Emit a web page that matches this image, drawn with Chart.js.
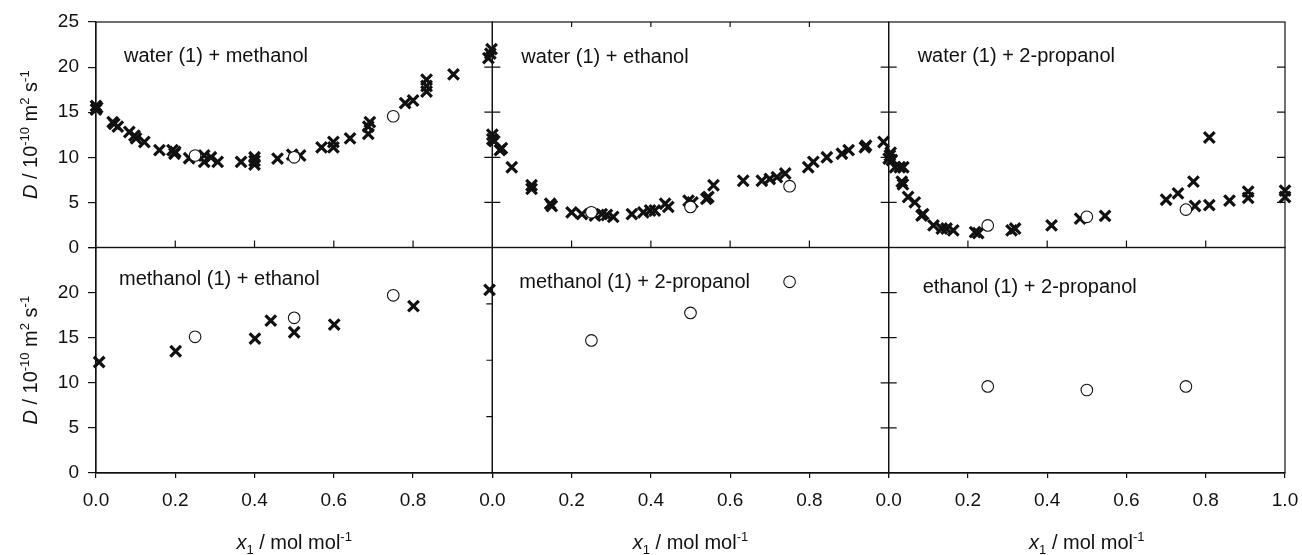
<!DOCTYPE html>
<html>
<head>
<meta charset="utf-8">
<title>Diffusion coefficients of binary mixtures</title>
<script src="https://cdn.jsdelivr.net/npm/chart.js@4/dist/chart.umd.min.js"></script>
<style>
  html, body { margin: 0; padding: 0; background: #fff; }
  #wrap { width: 1302px; height: 555px; }
</style>
</head>
<body>
<div id="wrap"><canvas id="diffChart" width="1302" height="555"></canvas></div>
<script>
/* Data: crosses = literature values, circles = simulation */
const panelNames = [
  'water (1) + methanol', 'water (1) + ethanol', 'water (1) + 2-propanol',
  'methanol (1) + ethanol', 'methanol (1) + 2-propanol', 'ethanol (1) + 2-propanol'
];

const xTicks = [0, 0.2, 0.4, 0.6, 0.8, 1.0];
const dTicks = [0, 5, 10, 15, 20, 25];

const waterMethanolX = [0, 0, 0.003, 0.042, 0.046, 0.055, 0.084, 0.097, 0.101, 0.122, 0.16, 0.193, 0.198, 0.2,
  0.235, 0.273, 0.273, 0.29, 0.307, 0.366, 0.4, 0.4, 0.4, 0.458, 0.495, 0.515, 0.569, 0.599, 0.599, 0.641,
  0.687, 0.687, 0.691, 0.78, 0.8, 0.834, 0.834, 0.834, 0.902, 0.99, 0.995, 0.998];
const waterMethanolD = [15.3, 15.7, 15.5, 13.9, 13.7, 13.4, 12.8, 12.4, 12.1, 11.7, 10.8, 10.8, 10.4, 10.6,
  9.9, 10.2, 9.5, 10.0, 9.5, 9.5, 9.2, 9.6, 10.0, 9.85, 10.3, 10.2, 11.1, 11.7, 11.1, 12.1,
  12.6, 13.4, 13.9, 16.0, 16.3, 17.3, 17.9, 18.6, 19.2, 21.0, 21.5, 22.0];
const waterMethanolSimX = [0.25, 0.5, 0.75];
const waterMethanolSimD = [10.2, 10.0, 14.55];

const waterEthanolX = [0, 0, 0.005, 0.019, 0.024, 0.049, 0.099, 0.099, 0.146, 0.15, 0.2, 0.226, 0.259, 0.276,
  0.289, 0.305, 0.352, 0.381, 0.398, 0.41, 0.436, 0.444, 0.495, 0.505, 0.54, 0.545, 0.558, 0.633, 0.68, 0.7,
  0.718, 0.739, 0.797, 0.81, 0.844, 0.882, 0.899, 0.94, 0.943, 0.987];
const waterEthanolD = [12.5, 12.0, 11.8, 10.8, 11.0, 8.9, 6.9, 6.5, 4.85, 4.6, 3.9, 3.7, 3.55, 3.7,
  3.6, 3.4, 3.7, 3.9, 4.1, 4.1, 4.85, 4.5, 5.2, 5.0, 5.4, 5.6, 6.9, 7.4, 7.4, 7.6,
  7.8, 8.2, 8.9, 9.5, 10.0, 10.4, 10.8, 11.1, 11.3, 11.7];
const waterEthanolSimX = [0.25, 0.5, 0.75];
const waterEthanolSimD = [3.9, 4.5, 6.8];

const waterPropanolX = [0, 0.003, 0.005, 0.008, 0.016, 0.028, 0.037, 0.033, 0.036, 0.049, 0.066, 0.083, 0.087,
  0.113, 0.134, 0.146, 0.163, 0.218, 0.226, 0.31, 0.319, 0.411, 0.483, 0.546, 0.7, 0.73, 0.769, 0.773,
  0.809, 0.809, 0.86, 0.907, 0.907, 1.0, 1.0];
const waterPropanolD = [9.85, 10.2, 10.5, 9.7, 8.9, 8.9, 8.9, 7.3, 7.0, 5.6, 5.0, 3.55, 3.7,
  2.45, 2.1, 2.1, 1.9, 1.7, 1.6, 1.9, 2.1, 2.45, 3.2, 3.5, 5.3, 6.0, 7.3, 4.6,
  12.2, 4.7, 5.2, 6.2, 5.5, 6.3, 5.6];
const waterPropanolSimX = [0.25, 0.5, 0.75];
const waterPropanolSimD = [2.45, 3.4, 4.2];

const methanolEthanolX = [0.008, 0.201, 0.401, 0.441, 0.5, 0.601, 0.801, 0.993];
const methanolEthanolD = [12.3, 13.5, 14.9, 16.9, 15.6, 16.45, 18.5, 20.3];
const methanolEthanolSimX = [0.25, 0.5, 0.75];
const methanolEthanolSimD = [15.1, 17.2, 19.7];

const methanolPropanolSimX = [0.25, 0.5, 0.75];
const methanolPropanolSimD = [14.7, 17.75, 21.2];

const ethanolPropanolSimX = [0.25, 0.5, 0.75];
const ethanolPropanolSimD = [9.6, 9.2, 9.6];


const FONT = "'Liberation Sans', Arial, Helvetica, sans-serif";
const INK = '#111';

function pts(xs, ds) {
  return xs.map((x, i) => ({ x: x, y: ds[i] }));
}

function crosses(xs, ds, xId, yId) {
  return {
    data: pts(xs, ds), xAxisID: xId, yAxisID: yId, order: 1, clip: false,
    pointStyle: 'crossRot', pointRadius: 7.5, borderWidth: 3.2,
    borderColor: INK, backgroundColor: INK, showLine: false
  };
}

function circles(xs, ds, xId, yId) {
  return {
    data: pts(xs, ds), xAxisID: xId, yAxisID: yId, order: 0, clip: false,
    pointStyle: 'circle', pointRadius: 5.8, borderWidth: 1.1,
    borderColor: INK, backgroundColor: '#fff', showLine: false
  };
}

function xAxis(showLast) {
  return {
    type: 'linear', position: 'bottom', stack: 'cols', min: 0, max: 1,
    afterBuildTicks: s => { s.ticks = xTicks.map(v => ({ value: v })); },
    grid: { drawOnChartArea: false, tickLength: 5, color: INK, lineWidth: 1.2 },
    border: { color: INK, width: 1.2 },
    ticks: {
      padding: 11, color: INK, autoSkip: false, maxRotation: 0,
      font: { family: FONT, size: 19 },
      callback: v => (!showLast && v > 0.99) ? '' : v.toFixed(1)
    },
    afterFit: s => { s.height = 82; s.paddingLeft = 0; s.paddingRight = 0; }
  };
}

function yAxis(showTop) {
  return {
    type: 'linear', position: 'left', stack: 'rows', min: 0, max: 25,
    afterBuildTicks: s => { s.ticks = dTicks.map(v => ({ value: v })); },
    grid: { drawOnChartArea: false, tickLength: 8, color: INK, lineWidth: 1.2 },
    border: { color: INK, width: 1.2 },
    ticks: {
      padding: 9, color: INK, autoSkip: false,
      font: { family: FONT, size: 19 },
      callback: v => (!showTop && v === 25) ? '' : String(v)
    },
    afterFit: s => { s.width = 96; s.paddingTop = 0; s.paddingBottom = 0; }
  };
}

/* panel layout: axes, inward tick sides, label offset from panel corner */
const panels = [
  { x: 'x1', y: 'yTop', sides: ['bottom', 'right'], label: [28, 40] },
  { x: 'x2', y: 'yTop', sides: ['top', 'bottom', 'left', 'right'], label: [29, 41] },
  { x: 'x3', y: 'yTop', sides: ['bottom', 'left', 'right'], label: [29, 40] },
  { x: 'x1', y: 'yBot', sides: ['rightQuarter'], label: [23, 37] },
  { x: 'x2', y: 'yBot', sides: ['right'], label: [27, 40] },
  { x: 'x3', y: 'yBot', sides: ['left'], label: [34, 45] }
];

const yTitleParts = [
  { t: 'D', italic: true }, { t: ' / 10' }, { t: '-10', sup: true },
  { t: ' m' }, { t: '2', sup: true }, { t: ' s' }, { t: '-1', sup: true }
];
const xTitleParts = [
  { t: 'x', italic: true }, { t: '1', sub: true }, { t: ' / mol mol' }, { t: '-1', sup: true }
];

function drawRich(ctx, parts, cx, y, size) {
  const small = Math.round(size * 0.65);
  const fontOf = p => (p.italic ? 'italic ' : '') + ((p.sup || p.sub) ? small : size) + 'px ' + FONT;
  let total = 0;
  parts.forEach(p => { ctx.font = fontOf(p); p.w = ctx.measureText(p.t).width; total += p.w; });
  let x = cx - total / 2;
  parts.forEach(p => {
    ctx.font = fontOf(p);
    const dy = p.sup ? -size * 0.42 : (p.sub ? size * 0.25 : 0);
    ctx.fillText(p.t, x, y + dy);
    x += p.w;
  });
}

const panelDecor = {
  id: 'panelDecor',
  beforeDatasetsDraw(chart) {
    const ctx = chart.ctx;
    ctx.save();
    ctx.strokeStyle = INK;
    ctx.lineWidth = 1.2;
    panels.forEach(p => {
      const xs = chart.scales[p.x], ys = chart.scales[p.y];
      const l = xs.left, r = xs.right, t = ys.top, b = ys.bottom;
      ctx.strokeRect(l, t, r - l, b - t);
      ctx.beginPath();
      p.sides.forEach(side => {
        if (side === 'top' || side === 'bottom') {
          xTicks.slice(1, -1).forEach(v => {
            const px = xs.getPixelForValue(v);
            if (side === 'top') { ctx.moveTo(px, t); ctx.lineTo(px, t + 5); }
            else { ctx.moveTo(px, b); ctx.lineTo(px, b - 7); }
          });
        } else if (side === 'left' || side === 'right') {
          dTicks.slice(1, -1).forEach(v => {
            const py = ys.getPixelForValue(v);
            if (side === 'left') { ctx.moveTo(l, py); ctx.lineTo(l + 8, py); }
            else { ctx.moveTo(r, py); ctx.lineTo(r - 8, py); }
          });
        } else if (side === 'rightQuarter') {
          [0.25, 0.5, 0.75].forEach(f => {
            const py = b - (b - t) * f;
            ctx.moveTo(r, py); ctx.lineTo(r - 6, py);
          });
        }
      });
      ctx.stroke();
    });
    ctx.restore();
  },
  afterDraw(chart) {
    const ctx = chart.ctx;
    ctx.save();
    ctx.fillStyle = INK;
    ctx.textBaseline = 'alphabetic';
    ctx.textAlign = 'left';

    panels.forEach((p, i) => {
      const xs = chart.scales[p.x], ys = chart.scales[p.y];
      ctx.font = '20px ' + FONT;
      ctx.fillText(panelNames[i], xs.left + p.label[0], ys.top + p.label[1]);
    });

    ['yTop', 'yBot'].forEach(id => {
      const ys = chart.scales[id];
      ctx.save();
      ctx.translate(37, (ys.top + ys.bottom) / 2);
      ctx.rotate(-Math.PI / 2);
      drawRich(ctx, yTitleParts, 0, 0, 20);
      ctx.restore();
    });

    ['x1', 'x2', 'x3'].forEach(id => {
      const xs = chart.scales[id];
      drawRich(ctx, xTitleParts, (xs.left + xs.right) / 2, 549, 20);
    });
    ctx.restore();
  }
};

const ctx = document.getElementById('diffChart').getContext('2d');

const diffChart = new Chart(ctx, {
  type: 'scatter',
  data: {
    datasets: [
      circles(waterMethanolSimX, waterMethanolSimD, 'x1', 'yTop'),
      crosses(waterMethanolX, waterMethanolD, 'x1', 'yTop'),
      circles(waterEthanolSimX, waterEthanolSimD, 'x2', 'yTop'),
      crosses(waterEthanolX, waterEthanolD, 'x2', 'yTop'),
      circles(waterPropanolSimX, waterPropanolSimD, 'x3', 'yTop'),
      crosses(waterPropanolX, waterPropanolD, 'x3', 'yTop'),
      circles(methanolEthanolSimX, methanolEthanolSimD, 'x1', 'yBot'),
      crosses(methanolEthanolX, methanolEthanolD, 'x1', 'yBot'),
      circles(methanolPropanolSimX, methanolPropanolSimD, 'x2', 'yBot'),
      circles(ethanolPropanolSimX, ethanolPropanolSimD, 'x3', 'yBot')
    ]
  },
  options: {
    responsive: false,
    animation: false,
    devicePixelRatio: 1,
    layout: { padding: { left: 0, right: 17, top: 22, bottom: 0 } },
    plugins: { legend: { display: false }, tooltip: { enabled: false } },
    scales: {
      x1: xAxis(false),
      x2: xAxis(false),
      x3: xAxis(true),
      yBot: yAxis(false),
      yTop: yAxis(true)
    }
  },
  plugins: [panelDecor]
});
</script>
</body>
</html>
